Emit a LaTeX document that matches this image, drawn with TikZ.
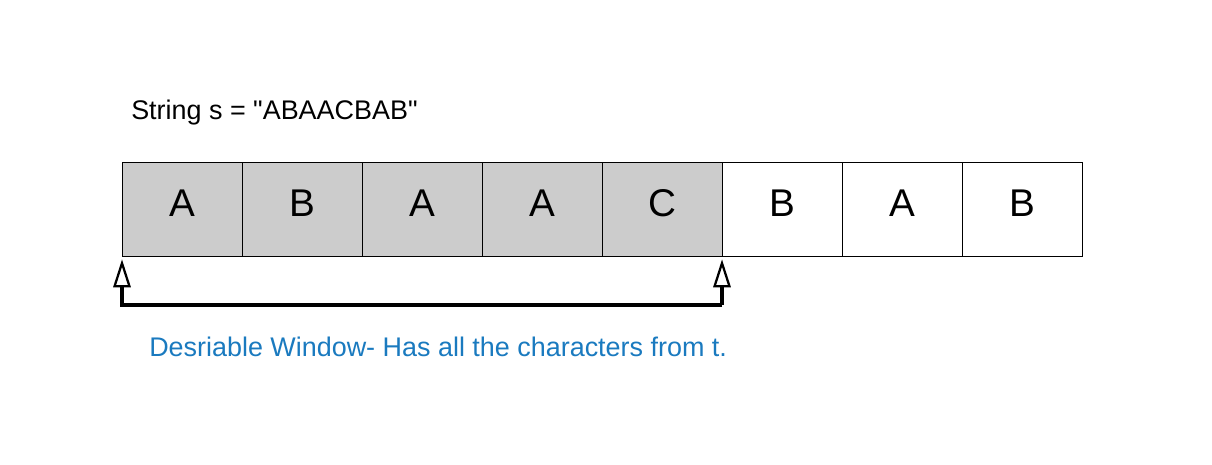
\documentclass[tikz,border=0pt]{standalone}
\usepackage{fontspec}
\setmainfont{Liberation Sans}
\usetikzlibrary{arrows.meta}
\definecolor{cellgray}{HTML}{CCCCCC}
\definecolor{textblue}{HTML}{1A7ABF}
\newcommand{\sq}{\XeTeXglyph\XeTeXglyphindex"quotedbl"\relax}
\begin{document}
\begin{tikzpicture}[x=0.75pt,y=-0.75pt,
  cell/.style={draw=black,line width=1pt,minimum width=90pt,minimum height=70.5pt,inner sep=0pt,anchor=north west},
  shaded/.style={cell,fill=cellgray},
  plain/.style={cell,fill=white},
  letter/.style={font=\fontsize{29}{32}\selectfont,inner sep=0pt},
  bracket/.style={line width=2.3pt,-{Triangle[open,length=21pt,width=13pt,line width=1.7pt]}},
  label/.style={font=\fontsize{20.2}{23}\selectfont,inner sep=0pt,anchor=west}]
\useasboundingbox (0,0) rectangle (1212,464);
\node[label] (title) at (131,113) {String s = \sq ABAACBAB\sq};
\node[shaded] (c1) at (122,162) {};
\node[shaded] (c2) at (242,162) {};
\node[shaded] (c3) at (362,162) {};
\node[shaded] (c4) at (482,162) {};
\node[shaded] (c5) at (602,162) {};
\node[plain] (c6) at (722,162) {};
\node[plain] (c7) at (842,162) {};
\node[plain] (c8) at (962,162) {};
\node[letter] (l1) at (182,203) {A};
\node[letter] (l2) at (302,203) {B};
\node[letter] (l3) at (422,203) {A};
\node[letter] (l4) at (542,203) {A};
\node[letter] (l5) at (662,203) {C};
\node[letter] (l6) at (782,203) {B};
\node[letter] (l7) at (902,203) {A};
\node[letter] (l8) at (1022,203) {B};
\coordinate (bl) at (122,305);
\coordinate (br) at (722,305);
\draw[bracket] (br) -- ([yshift=-1.5pt]c6.south west);
\draw[bracket] (br) -- (bl) -- ([yshift=-1.5pt]c1.south west);
\node[label,text=textblue] (caption) at (149,347) {Desriable Window- Has all the characters from t.};
\end{tikzpicture}
\end{document}
